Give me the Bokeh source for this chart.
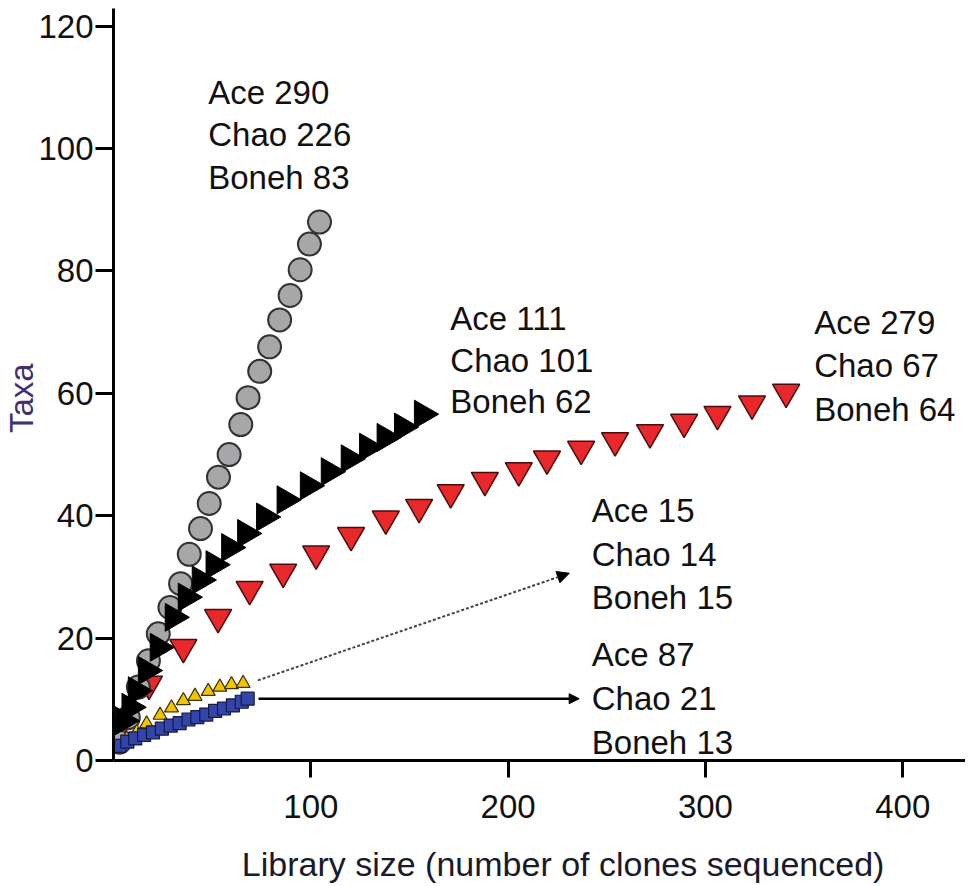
import math
from bokeh.plotting import figure
from bokeh.models import Range1d, FixedTicker, Label, Arrow, NormalHead
from bokeh.embed import file_html
from bokeh.resources import INLINE

# ---- data ----
gray_x = [3.0, 7.5, 12.6, 17.7, 22.7, 28.6, 34.0, 38.4, 44.1, 48.5, 53.2, 58.6, 64.5, 68.2, 74.1, 79.1, 84.2, 89.5, 94.6, 99.3, 104.4]
gray_y = [3.0, 7.0, 12.0, 16.3, 20.7, 25.0, 28.9, 33.7, 37.9, 42.0, 46.3, 50.0, 54.9, 59.3, 63.6, 67.6, 72.0, 76.0, 80.2, 84.4, 88.0]

black_x = [5.0, 8.4, 11.6, 16.7, 22.7, 30.3, 36.9, 44.0, 51.0, 58.9, 67.0, 76.6, 87.0, 98.8, 109.4, 119.5, 128.8, 137.7, 146.5, 156.6]
black_y = [6.5, 8.7, 11.4, 14.7, 18.5, 23.4, 26.7, 29.5, 32.0, 34.8, 37.1, 39.8, 42.6, 44.9, 47.2, 49.3, 51.2, 52.8, 54.5, 56.6]

red_x = [4.0, 18.0, 35.4, 53.0, 69.0, 86.0, 102.7, 120.4, 138.0, 154.9, 170.9, 188.2, 205.4, 219.7, 237.0, 254.2, 271.9, 289.2, 306.1, 323.6, 340.9]
red_y = [6.0, 12.5, 18.5, 23.4, 28.0, 30.8, 33.8, 36.8, 39.5, 41.4, 43.8, 45.8, 47.4, 49.3, 50.9, 52.3, 53.6, 55.3, 56.6, 58.3, 60.2]

yellow_x = [2.5, 6.7, 11.8, 16.8, 23.6, 29.4, 35.4, 41.3, 48.0, 53.9, 59.8, 65.7]
yellow_y = [2.2, 3.5, 4.6, 6.0, 7.4, 8.6, 9.8, 10.5, 11.3, 12.0, 12.4, 12.6]

blue_x = [3.0, 7.0, 11.0, 15.5, 20.0, 24.5, 29.0, 33.5, 38.0, 42.5, 47.0, 51.5, 56.0, 60.5, 65.0, 68.0]
blue_y = [2.4, 3.1, 3.6, 4.2, 4.6, 5.2, 5.7, 6.1, 6.7, 7.1, 7.5, 8.1, 8.5, 9.0, 9.6, 10.1]

x_ticks = [100, 200, 300, 400]
y_ticks = [0, 20, 40, 60, 80, 100, 120]

notes = [
    (["Ace 290", "Chao 226", "Boneh 83"], 48.0, [109.2, 102.3, 95.3]),
    (["Ace 111", "Chao 101", "Boneh 62"], 170.7, [72.3, 65.4, 58.6]),
    (["Ace 279", "Chao 67", "Boneh 64"], 355.1, [71.6, 64.6, 57.4]),
    (["Ace 15", "Chao 14", "Boneh 15"], 242.4, [40.8, 33.7, 26.6]),
    (["Ace 87", "Chao 21", "Boneh 13"], 242.4, [17.3, 10.1, 3.0]),
]

x_title = "Library size (number of clones sequenced)"
y_title = "Taxa"

FONT = "Liberation Sans"
FS = "33px"
NB = "\u00a0"

p = figure(width=965, height=886, output_backend="svg", toolbar_location=None,
           x_range=Range1d(0, 431.8), y_range=Range1d(0, 122.9),
           min_border_left=110, min_border_right=0, min_border_top=8,
           min_border_bottom=126)
p.outline_line_color = None
p.xgrid.visible = False
p.ygrid.visible = False

for ax in (p.xaxis[0], p.yaxis[0]):
    ax.axis_line_width = 3
    ax.axis_line_color = "black"
    ax.major_tick_line_width = 3
    ax.major_tick_line_color = "black"
    ax.major_tick_in = 0
    ax.minor_tick_line_color = None
    ax.major_label_text_font = FONT
    ax.major_label_text_font_size = FS
    ax.major_label_text_color = "#111111"
    ax.axis_label_text_font = FONT
    ax.axis_label_text_font_size = FS
    ax.axis_label_text_font_style = "normal"

p.xaxis[0].ticker = FixedTicker(ticks=x_ticks)
p.xaxis[0].major_tick_out = 17
p.xaxis[0].major_label_standoff = 17
p.xaxis[0].axis_label = NB * 5 + x_title
p.xaxis[0].axis_label_standoff = 24
p.xaxis[0].axis_label_text_font_size = "34px"
p.xaxis[0].axis_label_text_color = "#1a1a2a"

p.yaxis[0].ticker = FixedTicker(ticks=y_ticks)
p.yaxis[0].major_tick_out = 18
p.yaxis[0].major_label_standoff = 2
p.yaxis[0].axis_label = y_title + NB * 3
p.yaxis[0].axis_label_text_color = "#3f3170"
p.yaxis[0].axis_label_standoff = -5

# series
p.scatter(red_x, red_y, marker="inverted_triangle", size=27,
          fill_color="#e8282b", line_color="#4a0d0d", line_width=1.5)
p.scatter(gray_x, gray_y, marker="circle", size=23,
          fill_color="#a7a7aa", line_color="#333333", line_width=2)
p.scatter(black_x, black_y, marker="triangle", angle=-math.pi / 2, size=28,
          fill_color="black", line_color="black", line_width=1)
p.scatter(yellow_x, yellow_y, marker="triangle", size=14,
          fill_color="#f5c400", line_color="#3d3000", line_width=1.2)
p.scatter(blue_x, blue_y, marker="square", size=13,
          fill_color="#3344aa", line_color="#141a40", line_width=1.2)

# arrows
p.add_layout(Arrow(x_start=73.2, y_start=13.1, x_end=231.0, y_end=30.6,
                   line_color="#444444", line_width=2, line_dash="3 2",
                   end=NormalHead(size=12, fill_color="black", line_color="black")))
p.add_layout(Arrow(x_start=73.5, y_start=10.1, x_end=236.0, y_end=10.1,
                   line_color="black", line_width=2.5,
                   end=NormalHead(size=10, fill_color="black", line_color="black")))

# annotations
for lines, x, ys in notes:
    for t, y in zip(lines, ys):
        p.add_layout(Label(x=x, y=y, text=t, text_font=FONT, text_font_size=FS,
                           text_color="#111111", text_align="left",
                           text_baseline="middle"))

open("out.html", "w").write(file_html(p, INLINE))
